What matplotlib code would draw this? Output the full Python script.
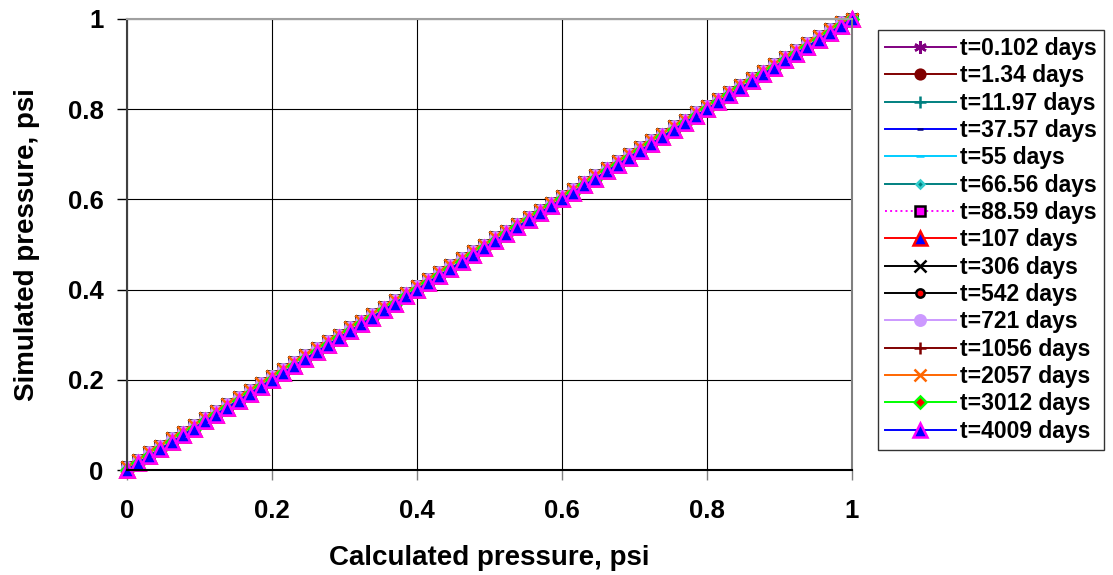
import matplotlib
matplotlib.use('Agg')
import matplotlib.pyplot as plt

plt.rcParams['font.family'] = ['Liberation Sans', 'DejaVu Sans']
plt.rcParams['font.weight'] = 'bold'

# Calculated pressure at the grid nodes (same nodes for every time step)
calc_p = [0.000, 0.015, 0.031, 0.046, 0.062, 0.077, 0.092, 0.108, 0.123, 0.138,
          0.154, 0.169, 0.185, 0.200, 0.215, 0.231, 0.246, 0.262, 0.277, 0.292,
          0.308, 0.323, 0.338, 0.354, 0.369, 0.385, 0.400, 0.415, 0.431, 0.446,
          0.462, 0.477, 0.492, 0.508, 0.523, 0.538, 0.554, 0.569, 0.585, 0.600,
          0.615, 0.631, 0.646, 0.662, 0.677, 0.692, 0.708, 0.723, 0.738, 0.754,
          0.769, 0.785, 0.800, 0.815, 0.831, 0.846, 0.862, 0.877, 0.892, 0.908,
          0.923, 0.938, 0.954, 0.969, 0.985, 1.000]

# Simulated pressure, early time steps (sit a touch above the 1:1 line)
sim_p_upper = [0.006, 0.023, 0.039, 0.054, 0.070, 0.085, 0.100, 0.116, 0.131, 0.146,
               0.162, 0.177, 0.193, 0.208, 0.223, 0.239, 0.254, 0.270, 0.285, 0.300,
               0.316, 0.331, 0.346, 0.362, 0.377, 0.393, 0.408, 0.423, 0.439, 0.454,
               0.470, 0.485, 0.500, 0.516, 0.531, 0.546, 0.562, 0.577, 0.593, 0.608,
               0.623, 0.639, 0.654, 0.670, 0.685, 0.700, 0.716, 0.731, 0.746, 0.762,
               0.777, 0.793, 0.808, 0.823, 0.839, 0.854, 0.870, 0.885, 0.900, 0.916,
               0.931, 0.946, 0.962, 0.977, 0.993, 1.000]

# Simulated pressure, remaining time steps (on the 1:1 line)
sim_p_diag = [0.000, 0.015, 0.031, 0.046, 0.062, 0.077, 0.092, 0.108, 0.123, 0.138,
              0.154, 0.169, 0.185, 0.200, 0.215, 0.231, 0.246, 0.262, 0.277, 0.292,
              0.308, 0.323, 0.338, 0.354, 0.369, 0.385, 0.400, 0.415, 0.431, 0.446,
              0.462, 0.477, 0.492, 0.508, 0.523, 0.538, 0.554, 0.569, 0.585, 0.600,
              0.615, 0.631, 0.646, 0.662, 0.677, 0.692, 0.708, 0.723, 0.738, 0.754,
              0.769, 0.785, 0.800, 0.815, 0.831, 0.846, 0.862, 0.877, 0.892, 0.908,
              0.923, 0.938, 0.954, 0.969, 0.985, 1.000]

times = ['0.102', '1.34', '11.97', '37.57', '55', '66.56', '88.59', '107',
         '306', '542', '721', '1056', '2057', '3012', '4009']
on_diag = ['107', '1056', '3012', '4009']

# line colour, marker, marker face, marker edge, marker size, line style
styles = {
    '0.102': ('#800080', (6, 2, 0), '#800080', '#800080', 9, '-'),
    '1.34':  ('#800000', 'o', '#800000', '#800000', 7, '-'),
    '11.97': ('#008080', '+', '#008080', '#008080', 9, '-'),
    '37.57': ('#0000FF', '_', '#000080', '#000080', 4, '-'),
    '55':    ('#00CCFF', '_', '#00CCFF', '#00CCFF', 6, '-'),
    '66.56': ('#008080', 'D', '#008080', '#33CCCC', 4, '-'),
    '88.59': ('#FF00FF', 's', '#FF00FF', '#000000', 6.5, ':'),
    '107':   ('#FF0000', '^', '#0000FF', '#FF0000', 9.5, '-'),
    '306':   ('#000000', 'x', '#000000', '#000000', 8, '-'),
    '542':   ('#000000', 'o', '#FF0000', '#000000', 6, '-'),
    '721':   ('#CC99FF', 'o', '#CC99FF', '#CC99FF', 7.5, '-'),
    '1056':  ('#800000', '+', '#800000', '#800000', 9, '-'),
    '2057':  ('#FF6600', 'x', '#FF6600', '#FF6600', 8, '-'),
    '3012':  ('#00FF00', 'D', '#FF0000', '#00FF00', 6, '-'),
    '4009':  ('#0000FF', '^', '#0000FF', '#FF00FF', 9.5, '-'),
}

fig = plt.figure(figsize=(11.13, 5.75), dpi=100)
ax = fig.add_axes([127 / 1113, 1 - 470 / 575, 725 / 1113, 451 / 575])

for t in times:
    col, mk, fc, ec, ms, ls = styles[t]
    y = sim_p_diag if t in on_diag else sim_p_upper
    ax.plot(calc_p, y, color=col, lw=1.4, ls=ls, marker=mk, markersize=ms,
            markerfacecolor=fc, markeredgecolor=ec, markeredgewidth=1.8,
            label=f't={t} days', clip_on=False)

ax.set_xlim(0, 1)
ax.set_ylim(0, 1)
ticks = [0, 0.2, 0.4, 0.6, 0.8, 1]
ax.set_xticks(ticks)
ax.set_yticks(ticks)
ax.set_xticklabels(['0', '0.2', '0.4', '0.6', '0.8', '1'])
ax.set_yticklabels(['0', '0.2', '0.4', '0.6', '0.8', '1'])
ax.tick_params(direction='out', length=7, width=1, labelsize=18.5, pad=10)
ax.tick_params(axis='x', colors='#808080', labelcolor='black', pad=14)
ax.tick_params(axis='y', colors='black', labelcolor='black')
ax.grid(True, color='black', lw=0.8)
ax.set_axisbelow(True)

ax.spines['left'].set_color('#404040')
ax.spines['bottom'].set_color('black')
ax.spines['top'].set_color('#A0A0A0')
ax.spines['right'].set_color('#808080')
for s in ax.spines.values():
    s.set_linewidth(1.5)

ax.set_xlabel('Calculated pressure, psi', fontsize=20, fontweight='bold', labelpad=16)
ax.set_ylabel('Simulated pressure, psi', fontsize=20, fontweight='bold', labelpad=20)

leg = ax.legend(loc='upper left', bbox_to_anchor=(878 / 1113, 1 - 30 / 575),
                bbox_transform=fig.transFigure, fontsize=16.5, frameon=True,
                fancybox=False, edgecolor='black', handlelength=3.1,
                handletextpad=0.2, labelspacing=0.19, borderpad=0.3,
                borderaxespad=0)
leg.get_frame().set_linewidth(1.0)
for txt in leg.get_texts():
    txt.set_fontweight('bold')

fig.savefig('out.png', dpi=100)
